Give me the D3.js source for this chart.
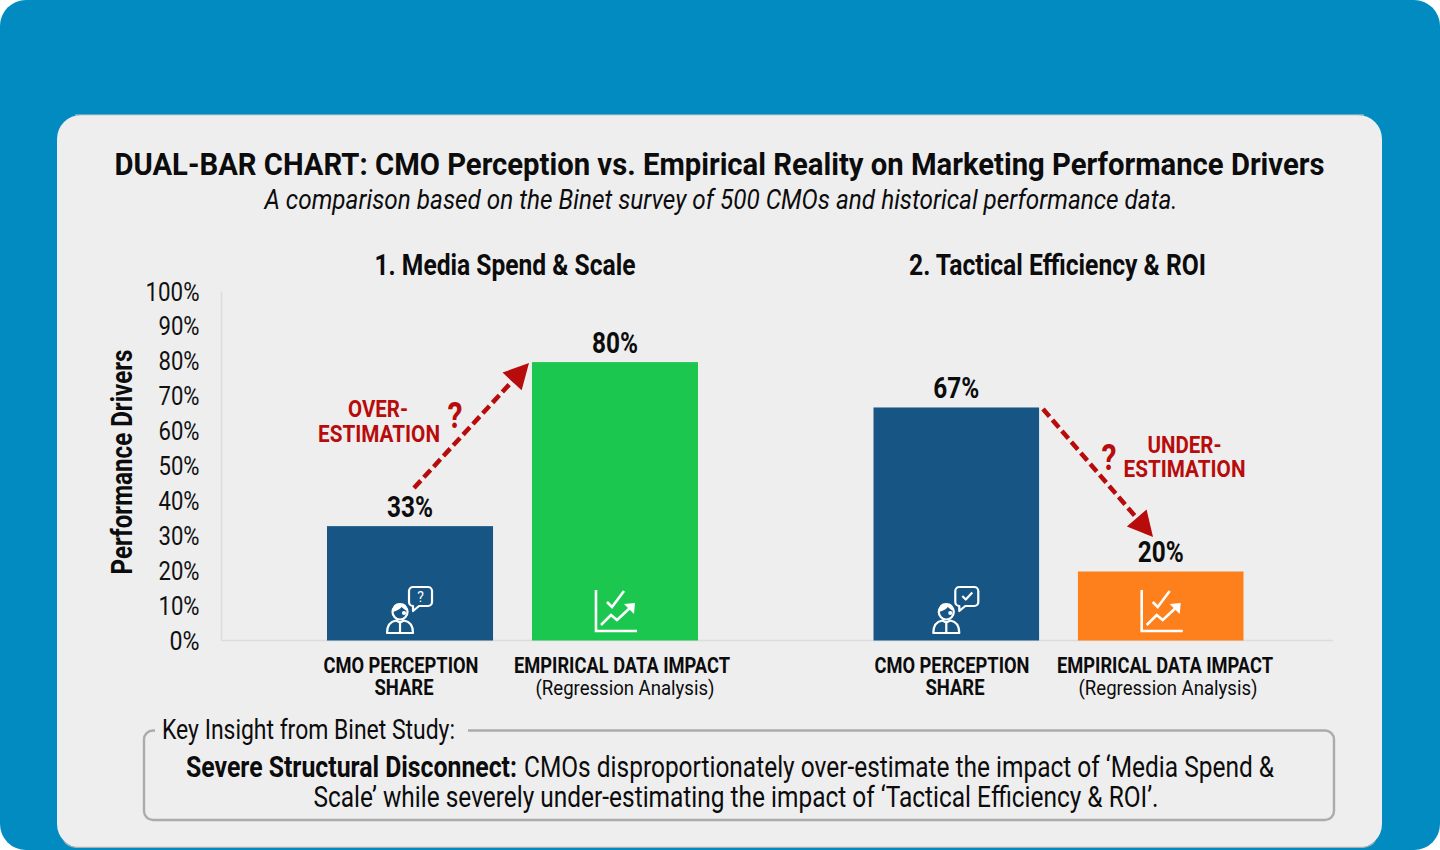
<!DOCTYPE html>
<html><head><meta charset="utf-8">
<script src="https://cdn.jsdelivr.net/npm/d3@7/dist/d3.min.js"></script>
<style>html,body{margin:0;padding:0;background:#fff;overflow:hidden}svg{display:block}text{font-family:Roboto,sans-serif}</style>
</head><body><svg id="c" width="1440" height="850"></svg>
<script>
const panelTitles = ["1. Media Spend & Scale", "2. Tactical Efficiency & ROI"];
const panel1Values = [33, 80];
const panel2Values = [67, 20];
const barKeys = ["perception", "empirical"];
const yTicks = [0,10,20,30,40,50,60,70,80,90,100];
const panel1Colors = ["#175684", "#1bc74e"];
const panel2Colors = ["#175684", "#fd801c"];

const svg = d3.select("#c");
const txt = (s, x, y, size, weight, width, opt={}) => {
  const t = svg.append("text").attr("x", x).attr("y", y).attr("font-size", size)
    .attr("font-weight", weight).attr("fill", opt.fill || "#0c0c0c")
    .attr("text-anchor", opt.anchor || "middle").attr("font-style", opt.style || "normal").text(s);
  if (width) t.attr("textLength", width).attr("lengthAdjust", "spacingAndGlyphs");
  return t;
};

svg.append("rect").attr("width",1440).attr("height",850).attr("rx",26).attr("fill","#018bc0");
svg.append("rect").attr("x",57).attr("y",115).attr("width",1325).attr("height",733).attr("rx",24)
  .attr("fill","#eeeeef");
svg.append("path").attr("d","M75 115 H1364").attr("fill","none").attr("stroke","#c9cbcc").attr("stroke-width",1);
svg.append("path").attr("d","M64 841 Q68 847 76 847.4 H1363 Q1371 847 1375 841").attr("fill","none").attr("stroke","#aeb0b1").attr("stroke-width",1.3);

txt("DUAL-BAR CHART: CMO Perception vs. Empirical Reality on Marketing Performance Drivers",719.5,175,32,700,1210);
txt("A comparison based on the Binet survey of 500 CMOs and historical performance data.",721,209,28,400,913,{style:"italic"});
txt(panelTitles[0],505,274.5,29,700,261);
txt(panelTitles[1],1057.5,274.5,29,700,297);

const y = d3.scaleLinear().domain([0,100]).range([640.5,291.5]);
const axis = d3.axisLeft(y).tickValues(yTicks).tickFormat(d=>d+"%").tickSize(0).tickPadding(0);
const gy = svg.append("g").attr("transform","translate(199.5,0)").call(axis);
gy.select(".domain").remove();
gy.selectAll("text").attr("font-size",26).attr("fill","#111").attr("font-family","Roboto").attr("font-weight",400)
  .attr("dy","0.33em").attr("textLength",d=>d===100?54:d===0?30:41).attr("lengthAdjust","spacingAndGlyphs");
svg.append("line").attr("x1",221.5).attr("x2",221.5).attr("y1",y(100)).attr("y2",y(0)).attr("stroke","#dcdcdc").attr("stroke-width",1.5);
svg.append("line").attr("x1",221).attr("x2",1333).attr("y1",y(0)).attr("y2",y(0)).attr("stroke","#dcdcdc").attr("stroke-width",1.5);
txt("Performance Drivers",0,0,29,700,225).attr("transform","translate(132,462) rotate(-90)");

const x1 = d3.scaleBand().domain(barKeys).range([327,698]).paddingInner(0.19);
const x2 = d3.scaleBand().domain(barKeys).range([873.5,1243.5]).paddingInner(0.19);

function personIcon(cx, mark){
  const g = svg.append("g").attr("transform",`translate(${cx-24},584)`).attr("fill","none").attr("stroke","#fff").attr("stroke-width",2.2).attr("stroke-linejoin","round");
  g.append("path").attr("d","M27 3 h15 a4 4 0 0 1 4 4 v11 a4 4 0 0 1 -4 4 h-9 l-6 5 v-5 h0 a4 4 0 0 1 -4 -4 v-11 a4 4 0 0 1 4 -4 z");
  g.append("circle").attr("cx",18).attr("cy",29).attr("r",1).attr("fill","#fff");
  g.append("circle").attr("cx",14).attr("cy",28).attr("r",7.5);
  g.append("path").attr("d","M6.5 28 q7 -2 9 -5 q3 3 6 4 q0 -8 -7.5 -8 q-8 0 -7.5 9z").attr("fill","#fff").attr("stroke","none");
  g.append("path").attr("d","M1 49 q0 -11 9 -12.5 l4 2 l4 -2 q9 1.5 9 12.5 z M14 39 v10");
  if(mark==="?") g.append("text").attr("x",34.5).attr("y",17.5).attr("text-anchor","middle").attr("font-size",14).attr("font-weight",400).attr("fill","#fff").attr("stroke","none").text("?");
  else g.append("path").attr("d","M30 12 l3.5 3.5 l6.5 -7");
}
function chartIcon(cx){
  const g = svg.append("g").attr("transform",`translate(${cx-22},590)`).attr("fill","none").attr("stroke","#fff").attr("stroke-width",2.6);
  g.append("path").attr("d","M3 0 V41 H44");
  g.append("path").attr("d","M14 12 l5 5 l12 -16");
  g.append("path").attr("d","M8 35 l10 -10 l6 5 l14 -13");
  g.append("path").attr("d","M31 14 L42 13 L41 24 z").attr("fill","#fff").attr("stroke","none");
}

function panel(vals, xs, colors, mark){
  barKeys.forEach((k,i)=>{
    svg.append("rect").attr("x",xs(k)).attr("y",y(vals[i])+0.8).attr("width",xs.bandwidth()).attr("height",y(0)-y(vals[i])-0.8).attr("fill",colors[i]);
    txt(vals[i]+"%", xs(k)+xs.bandwidth()/2, y(vals[i])-8.5, 29, 700, 46);
  });
  personIcon(xs(barKeys[0])+xs.bandwidth()/2, mark);
  chartIcon(xs(barKeys[1])+xs.bandwidth()/2);
}
panel(panel1Values,x1,panel1Colors,"?");
panel(panel2Values,x2,panel2Colors,"v");

const lab = (cx1,cxS,cx2,off)=>{
  txt("CMO PERCEPTION",cx1,673,22,700,155);
  txt("SHARE",cxS,695,22,700,59);
  txt("EMPIRICAL DATA IMPACT",cx2,673,22,700,216);
  txt("(Regression Analysis)",cx2+off,695,21,400,179);
};
lab(401,404,622,3);
lab(952,955,1165,3);

const red="#b80b0b";
function arrow(px1,py1,px2,py2){
  const a=Math.atan2(py2-py1,px2-px1), L=Math.hypot(px2-px1,py2-py1)-20;
  svg.append("line").attr("x1",px1).attr("y1",py1).attr("x2",px1+L*Math.cos(a)).attr("y2",py1+L*Math.sin(a))
    .attr("stroke",red).attr("stroke-width",4.5).attr("stroke-dasharray","10 4.5");
  const w=13,h=25;
  const bx=px2-h*Math.cos(a),by=py2-h*Math.sin(a);
  svg.append("path").attr("fill",red).attr("d",`M${px2} ${py2} L${bx-w*Math.sin(a)} ${by+w*Math.cos(a)} L${bx+w*Math.sin(a)} ${by-w*Math.cos(a)} Z`);
}
arrow(414,488,529,363);
arrow(1043,409,1153,537);
txt("OVER-",378,416.5,24,700,60,{fill:red});
txt("ESTIMATION",379,441.5,24,700,122,{fill:red});
txt("?",455,428,36,700,15,{fill:red});
txt("UNDER-",1184.5,452.5,24,700,74,{fill:red});
txt("ESTIMATION",1184.5,476.5,24,700,122,{fill:red});
txt("?",1109,470,36,700,15,{fill:red});

svg.append("path").attr("d","M155 730.5 H153 a9 9 0 0 0 -9 9 V811 a9 9 0 0 0 9 9 H1325 a9 9 0 0 0 9 -9 V739.5 a9 9 0 0 0 -9 -9 H468")
  .attr("fill","none").attr("stroke","#a9abac").attr("stroke-width",2.4);
txt("Key Insight from Binet Study:",162,738.5,28,400,293,{anchor:"start"});
txt("Severe Structural Disconnect:",186,776.5,29,700,331,{anchor:"start"});
txt("CMOs disproportionately over-estimate the impact of ‘Media Spend &",524,776.5,29,400,750,{anchor:"start"});
txt("Scale’ while severely under-estimating the impact of ‘Tactical Efficiency & ROI’.",736,806.5,29,400,845);
</script></body></html>
